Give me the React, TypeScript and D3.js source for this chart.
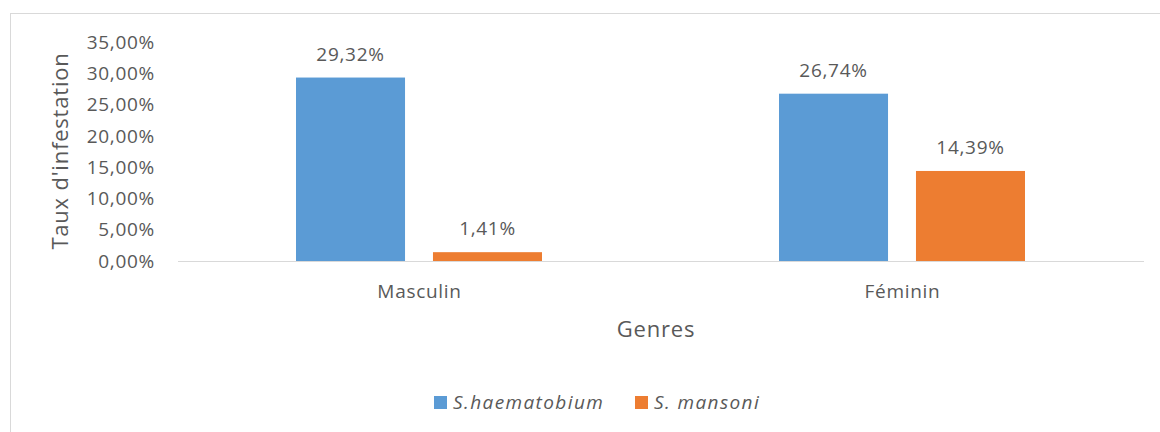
import React from "react";
import * as d3 from "d3";

const genres = ["Masculin", "Féminin"];
const series = ["S.haematobium", "S. mansoni"];
const haematobium = [29.32, 26.74];
const mansoni = [1.41, 14.39];
const yTicks = [0, 5, 10, 15, 20, 25, 30, 35];

const colors = ["#5B9BD5", "#ED7D31"];
const textColor = "#595959";
const font = "'Open Sans', sans-serif";

const App = () => {
  const width = 1160;
  const height = 432;
  const left = 178;
  const right = 1144;
  const top = 42;
  const bottom = 261;

  const x = d3.scaleBand().domain(genres).range([left, right]);
  const y = d3.scaleLinear().domain([0, 35]).range([bottom, top]);
  // bars sit in the middle of each category band
  const inner = d3
    .scaleBand()
    .domain(series)
    .range([118, 364])
    .paddingInner(0.204);

  const fmt = (v: number) => v.toFixed(2).replace(".", ",") + "%";
  const values = [haematobium, mansoni];
  const fs = 19;
  const ls = 0.7;

  return (
    <svg
      width={width}
      height={height}
      style={{ position: "absolute", left: 0, top: 0 }}
      fontFamily={font}
    >
      <rect x={0} y={0} width={width} height={height} fill="#fff" />
      <rect
        x={10.5}
        y={13.5}
        width={width}
        height={height}
        fill="none"
        stroke="#D9D9D9"
      />
      {yTicks.map((t) => (
        <text
          key={t}
          x={155}
          y={y(t)}
          dy="0.35em"
          textAnchor="end"
          fontSize={fs}
          letterSpacing={ls}
          fill={textColor}
        >
          {fmt(t)}
        </text>
      ))}
      <line x1={left} x2={right} y1={bottom + 0.5} y2={bottom + 0.5} stroke="#D9D9D9" />
      {series.map((s, si) =>
        genres.map((g, gi) => {
          const bx = (x(g) as number) + (inner(s) as number);
          const v = values[si][gi];
          return (
            <g key={s + g}>
              <rect
                x={bx}
                y={y(v)}
                width={inner.bandwidth()}
                height={bottom - y(v)}
                fill={colors[si]}
              />
              <text
                x={bx + inner.bandwidth() / 2}
                y={y(v) - 17}
                textAnchor="middle"
                fontSize={fs}
                letterSpacing={ls}
                fill={textColor}
              >
                {fmt(v)}
              </text>
            </g>
          );
        })
      )}
      {genres.map((g) => (
        <text
          key={g}
          x={(x(g) as number) + x.bandwidth() / 2}
          y={298}
          textAnchor="middle"
          fontSize={fs}
          letterSpacing={ls}
          fill={textColor}
        >
          {g}
        </text>
      ))}
      <text
        x={656}
        y={337}
        textAnchor="middle"
        fontSize={22}
        letterSpacing={0.8}
        fill={textColor}
      >
        Genres
      </text>
      <text
        transform={`translate(68,151) rotate(-90)`}
        textAnchor="middle"
        fontSize={22}
        letterSpacing={0.8}
        fill={textColor}
      >
        Taux d'infestation
      </text>
      {series.map((s, i) => {
        const lx = i === 0 ? 434 : 635;
        return (
          <g key={s}>
            <rect x={lx} y={396} width={13} height={13} fill={colors[i]} />
            <text
              x={lx + 19}
              y={409}
              fontSize={fs}
              letterSpacing={1.4}
              fontStyle="italic"
              fill={textColor}
            >
              {s}
            </text>
          </g>
        );
      })}
    </svg>
  );
};

export default App;
